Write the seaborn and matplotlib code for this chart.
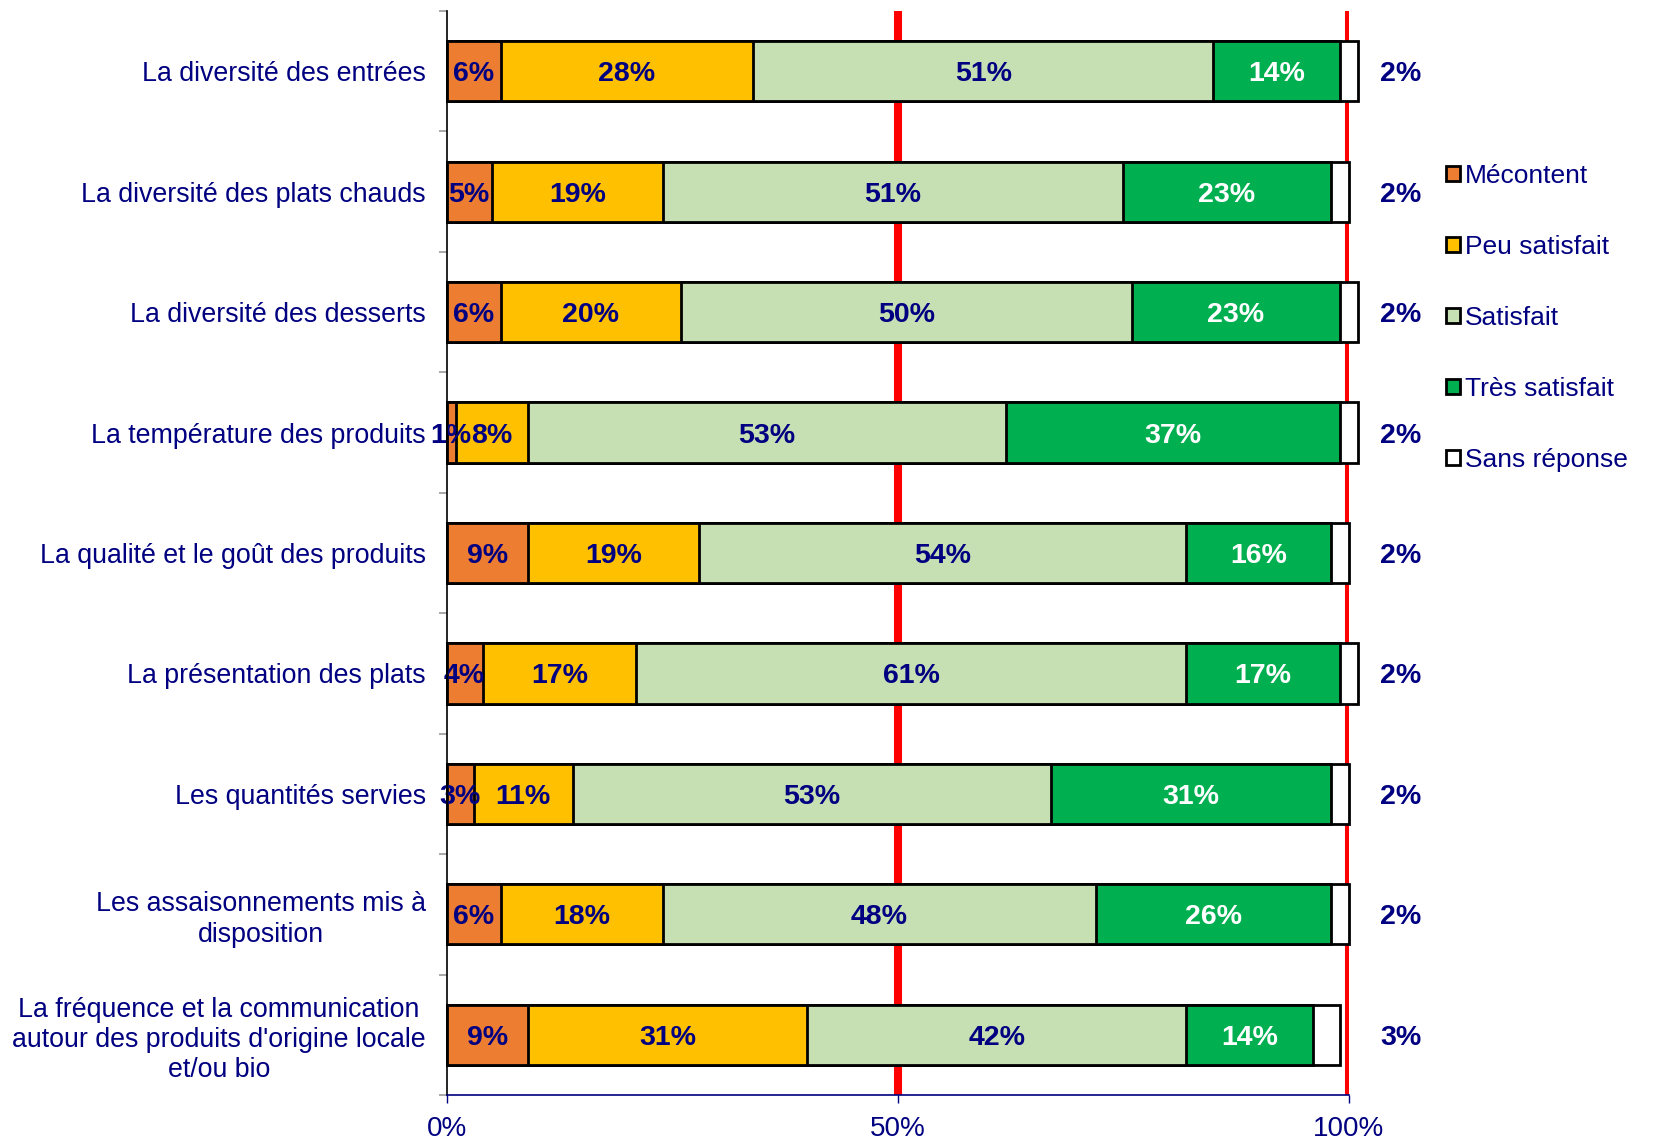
import matplotlib
matplotlib.use("Agg")
import matplotlib.pyplot as plt
import seaborn as sns
import pandas as pd
import numpy as np
from matplotlib.patches import Patch

# Survey items (top to bottom)
categories = [
    "La diversité des entrées",
    "La diversité des plats chauds",
    "La diversité des desserts",
    "La température des produits",
    "La qualité et le goût des produits",
    "La présentation des plats",
    "Les quantités servies",
    "Les assaisonnements mis à\ndisposition",
    "La fréquence et la communication\nautour des produits d'origine locale\net/ou bio",
]

# Share of answers (%) per satisfaction level
mecontent = [6, 5, 6, 1, 9, 4, 3, 6, 9]
peu_satisfait = [28, 19, 20, 8, 19, 17, 11, 18, 31]
satisfait = [51, 51, 50, 53, 54, 61, 53, 48, 42]
tres_satisfait = [14, 23, 23, 37, 16, 17, 31, 26, 14]
sans_reponse = [2, 2, 2, 2, 2, 2, 2, 2, 3]

series_names = ["Mécontent", "Peu satisfait", "Satisfait", "Très satisfait", "Sans réponse"]
series_values = [mecontent, peu_satisfait, satisfait, tres_satisfait, sans_reponse]
series_colors = ["#ED7D31", "#FFC000", "#C6E0B4", "#00B050", "#FFFFFF"]
label_colors = ["#000080", "#000080", "#000080", "#FFFFFF", "#000080"]
x_ticks = [0, 50, 100]
x_tick_labels = ["0%", "50%", "100%"]

NAVY = "#000080"

sns.set_theme(style="white")
plt.rcParams["font.family"] = ["Liberation Sans", "DejaVu Sans"]

df = pd.DataFrame({name: vals for name, vals in zip(series_names, series_values)})
df["Catégorie"] = categories
cum = df[series_names].cumsum(axis=1)

fig = plt.figure(figsize=(16.56, 11.44), dpi=100)
ax = fig.add_axes([0.2697, 0.0428, 0.5447, 0.9476])

# Reference lines at 50% and 100%, behind the bars
for xv in (50, 100):
    ax.axvline(xv, color="#FF0000", lw=5.8, zorder=0.5)

# Stacked bars: draw cumulative totals from the outermost segment inwards
for i in range(len(series_names) - 1, -1, -1):
    plot_df = pd.DataFrame({"Catégorie": categories, "val": cum[series_names[i]].values})
    sns.barplot(
        data=plot_df, x="val", y="Catégorie", orient="h", order=categories,
        color=series_colors[i], saturation=1, width=0.5,
        edgecolor="black", linewidth=2.0, ax=ax, zorder=2, clip_on=False,
    )

# Value labels
for r in range(len(categories)):
    left = 0
    for i, name in enumerate(series_names):
        v = series_values[i][r]
        if i < 4:
            xc = left + v / 2
        else:
            xc = 105.8
        ax.text(xc, r + 0.025, f"{v}%", ha="center", va="center", fontsize=20.5,
                fontweight="bold", color=label_colors[i], zorder=5, clip_on=False)
        left += v

ax.set_xlim(0, 100)
ax.set_ylim(8.5, -0.5)
ax.set_xlabel("")
ax.set_ylabel("")

ax.set_xticks(x_ticks)
ax.set_xticklabels(x_tick_labels, fontsize=20, color=NAVY)
ax.set_yticks(range(len(categories)))
ax.set_yticklabels(categories, fontsize=19.3, color=NAVY)
for lab in ax.get_yticklabels():
    lab.set_multialignment("center")
    lab.set_linespacing(1.22)
ax.tick_params(axis="y", which="major", length=0, pad=15)
ax.set_yticks(np.arange(-0.5, len(categories), 1.0), minor=True)
ax.tick_params(axis="y", which="minor", length=6, width=1.2, color="#999999", left=True)
ax.tick_params(axis="x", which="major", length=6, width=1, color=NAVY, bottom=True,
               direction="out", pad=9)

for s in ("top", "right"):
    ax.spines[s].set_visible(False)
ax.spines["left"].set_color("black")
ax.spines["left"].set_linewidth(1.2)
ax.spines["bottom"].set_color(NAVY)
ax.spines["bottom"].set_linewidth(1.2)
ax.spines["left"].set_zorder(6)
ax.spines["bottom"].set_zorder(6)

handles = [Patch(facecolor=c, edgecolor="black", linewidth=2.0) for c in series_colors]
fig.legend(handles, series_names, loc="upper left", bbox_to_anchor=(0.867, 0.866),
           frameon=False, fontsize=19, labelcolor=NAVY, handlelength=0.52,
           handleheight=0.52, handletextpad=0.2, labelspacing=1.78, borderaxespad=0)

fig.savefig("out.png", dpi=100)
